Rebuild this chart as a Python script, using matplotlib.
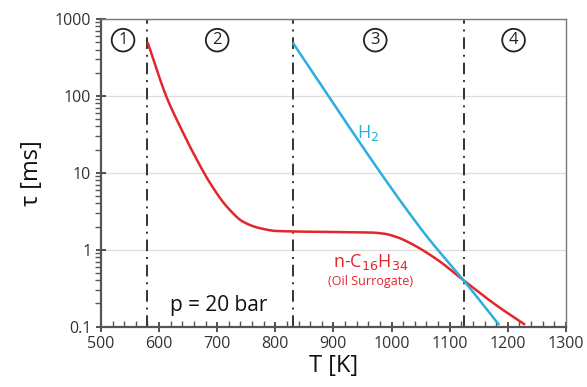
import numpy as np
import matplotlib.pyplot as plt
from matplotlib.ticker import LogLocator, NullFormatter, MultipleLocator

plt.rcParams['font.family'] = ['Open Sans', 'DejaVu Sans']

# ignition delay, n-hexadecane (oil surrogate)
T_oil = [581, 613, 639, 659, 688, 717, 745, 774, 803, 900, 960, 986, 1010, 1032, 1079,
         1124, 1176, 1228]
tau_oil = [480, 96, 36, 18, 7.3, 3.6, 2.3, 1.9, 1.75, 1.7, 1.68, 1.62, 1.45, 1.22, 0.74,
           0.40, 0.20, 0.108]

# ignition delay, hydrogen
T_h2 = [831, 906, 981, 1027, 1062, 1124, 1184]
tau_h2 = [480, 68, 10, 3.25, 1.45, 0.40, 0.108]

regions = [580, 830, 1125]
region_labels = ['1', '2', '3', '4']
region_x = [538, 700, 972, 1210]


# monotone cubic (pchip) through the read points, in log space
def pchip(x, y, xf):
    x = np.asarray(x, float)
    y = np.asarray(y, float)
    h = np.diff(x)
    d = np.diff(y) / h
    m = np.zeros_like(y)
    for i in range(1, len(y) - 1):
        if d[i - 1] * d[i] > 0:
            w1 = 2 * h[i] + h[i - 1]
            w2 = h[i] + 2 * h[i - 1]
            m[i] = (w1 + w2) / (w1 / d[i - 1] + w2 / d[i])
    m[0] = d[0]
    m[-1] = d[-1]
    idx = np.clip(np.searchsorted(x, xf) - 1, 0, len(x) - 2)
    t = (xf - x[idx]) / h[idx]
    h00 = 2 * t**3 - 3 * t**2 + 1
    h10 = t**3 - 2 * t**2 + t
    h01 = -2 * t**3 + 3 * t**2
    h11 = t**3 - t**2
    return h00 * y[idx] + h10 * h[idx] * m[idx] + h01 * y[idx + 1] + h11 * h[idx] * m[idx + 1]


def curve(T, tau):
    Tf = np.linspace(T[0], T[-1], 400)
    return Tf, 10 ** pchip(T, np.log10(tau), Tf)


fig = plt.figure(figsize=(5.87, 3.87), dpi=100)
ax = fig.add_axes([0.172, 0.156, 0.792, 0.795])

Tf, tf = curve(T_oil, tau_oil)
ax.plot(Tf, tf, color='#e3262b', lw=1.8, zorder=3)
Tf, tf = curve(T_h2, tau_h2)
ax.plot(Tf, tf, color='#2aaee0', lw=1.8, zorder=3)

for x in regions:
    ax.axvline(x, color='#333333', lw=1.4, ls=(0, (6, 3, 1, 3)), zorder=2)

for x, lab in zip(region_x, region_labels):
    ax.text(x, 530, lab, ha='center', va='center', fontsize=12, color='#222222',
            bbox=dict(boxstyle='circle,pad=0.2', fc='white', ec='#222222', lw=1.3))

ax.set_yscale('log')
ax.set_xlim(500, 1300)
ax.set_ylim(0.1, 1000)
ax.set_yticks([0.1, 1, 10, 100, 1000])
ax.set_yticklabels(['0.1', '1', '10', '100', '1000'])
ax.yaxis.set_minor_locator(LogLocator(base=10, subs=np.arange(2, 10)))
ax.yaxis.set_minor_formatter(NullFormatter())
ax.xaxis.set_major_locator(MultipleLocator(100))
ax.xaxis.set_minor_locator(MultipleLocator(20))
ax.grid(axis='y', which='major', color='#dddddd', lw=0.9, zorder=0)

ax.tick_params(axis='both', which='major', labelsize=11.5, colors='#333333',
               direction='inout', length=7, width=1.2)
ax.tick_params(axis='y', which='minor', direction='out', length=4, width=1.0, colors='#555555')
ax.tick_params(axis='x', which='minor', direction='in', length=4, width=1.0, colors='#555555')
for s in ['left', 'bottom']:
    ax.spines[s].set_linewidth(1.6)
    ax.spines[s].set_color('#555555')
for s in ['top', 'right']:
    ax.spines[s].set_linewidth(1.0)
    ax.spines[s].set_color('#777777')

ax.set_xlabel('T [K]', fontsize=17, labelpad=1, color='#111111')
ax.set_ylabel('τ [ms]', fontsize=17, labelpad=8, color='#111111')

ax.text(960, 33, 'H$_2$', color='#2aaee0', fontsize=13, ha='center', va='center')
ax.text(965, 0.69, 'n-C$_{16}$H$_{34}$', color='#e3262b', fontsize=13, ha='center', va='center')
ax.text(963, 0.385, '(Oil Surrogate)', color='#e3262b', fontsize=9, ha='center', va='center')
ax.text(703, 0.19, 'p = 20 bar', color='#111111', fontsize=15, ha='center', va='center')

fig.savefig('out.png', dpi=100)
